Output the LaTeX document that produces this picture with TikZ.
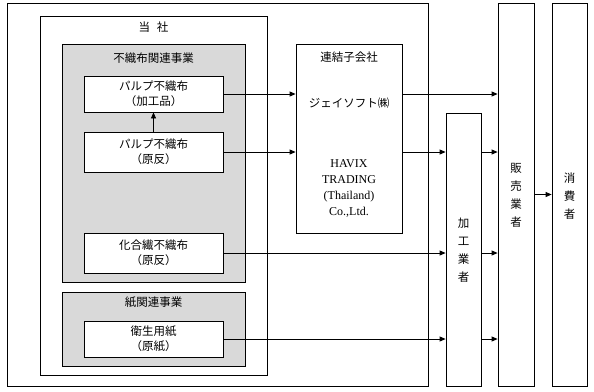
\documentclass[tikz,border=0pt]{standalone}
\usepackage{fontspec}
\setmainfont{Noto Sans CJK JP}
\newfontfamily\serifen{Liberation Serif}
\usetikzlibrary{arrows.meta}
\definecolor{grayfill}{HTML}{D9D9D9}
\tikzset{
  box/.style={draw=black, line width=0.8pt, fill=white, inner sep=0pt},
  graybox/.style={draw=black, line width=0.8pt, fill=grayfill, inner sep=0pt},
  lbl/.style={font=\fontsize{11.5}{15}\selectfont, align=center, inner sep=0pt},
  vlbl/.style={font=\fontsize{11.5}{18}\selectfont, align=center, inner sep=0pt},
  arr/.style={line width=0.8pt, -{Triangle[length=6pt,width=5pt]}}
}
\begin{document}
\begin{tikzpicture}[x=1pt,y=-1pt]
\path[use as bounding box] (0,0) rectangle (594,391);
% boxes
\node[box, minimum width=421pt, minimum height=383pt] (outer) at (217.5,194.5) {};
\node[box, minimum width=227pt, minimum height=359pt] (tousha) at (153.5,195.5) {};
\node[graybox, minimum width=183pt, minimum height=238pt] (grayA) at (153.5,163) {};
\node[graybox, minimum width=183pt, minimum height=74pt] (grayB) at (153.5,329) {};
\node[box, minimum width=139pt, minimum height=36pt] (kakou) at (153.5,94) {};
\node[box, minimum width=139pt, minimum height=40pt] (gentan) at (153.5,152) {};
\node[box, minimum width=139pt, minimum height=40pt] (kagousen) at (153.5,253) {};
\node[box, minimum width=139pt, minimum height=36pt] (eisei) at (153.5,339) {};
\node[box, minimum width=106pt, minimum height=189pt] (renketsu) at (349,138.5) {};
\node[box, minimum width=35pt, minimum height=273pt] (kakougyo) at (463.5,249.5) {};
\node[box, minimum width=36pt, minimum height=383pt] (hanbai) at (516,194.5) {};
\node[box, minimum width=35pt, minimum height=383pt] (shouhi) at (569.5,194.5) {};
% labels
\node[lbl] (tToushya) at (153.5,27) {当\hspace{0.6em}社};
\node[lbl] (tFushokuJ) at (153.5,58) {不織布関連事業};
\node[lbl] (tKamiJ) at (153.5,302) {紙関連事業};
\node[lbl] (tKakou) at (kakou) {パルプ不織布\\（加工品）};
\node[lbl] (tGentan) at (gentan) {パルプ不織布\\（原反）};
\node[lbl] (tKagousen) at (kagousen) {化合繊不織布\\（原反）};
\node[lbl] (tEisei) at (eisei) {衛生用紙\\（原紙）};
\node[lbl] (tRenketsu) at (349,57) {連結子会社};
\node[lbl] (tJsoft) at (349,103) {ジェイソフト㈱};
\node[lbl, font=\serifen\fontsize{12}{16}\selectfont] (tHavix) at (349,188) {HAVIX\\TRADING\\(Thailand)\\Co.,Ltd.};
\node[vlbl] (tKakougyo) at (463.5,250) {加\\工\\業\\者};
\node[vlbl] (tHanbai) at (516,195) {販\\売\\業\\者};
\node[vlbl] (tShouhi) at (569.5,196) {消\\費\\者};
% arrows
\draw[arr] (gentan.north) -- (kakou.south);
\draw[arr] (kakou.east) -- (kakou.east -| renketsu.west);
\draw[arr] (gentan.east) -- (gentan.east -| renketsu.west);
\draw[arr] (renketsu.east |- kakou.east) -- (hanbai.west |- kakou.east);
\draw[arr] (renketsu.east |- gentan.east) -- (kakougyo.west |- gentan.east);
\draw[arr] (kakougyo.east |- gentan.east) -- (hanbai.west |- gentan.east);
\draw[arr] (kagousen.east) -- (kagousen.east -| kakougyo.west);
\draw[arr] (kakougyo.east |- kagousen.east) -- (hanbai.west |- kagousen.east);
\draw[arr] (eisei.east) -- (eisei.east -| kakougyo.west);
\draw[arr] (kakougyo.east |- eisei.east) -- (hanbai.west |- eisei.east);
\draw[arr] (hanbai.east) -- (shouhi.west);
\end{tikzpicture}
\end{document}
